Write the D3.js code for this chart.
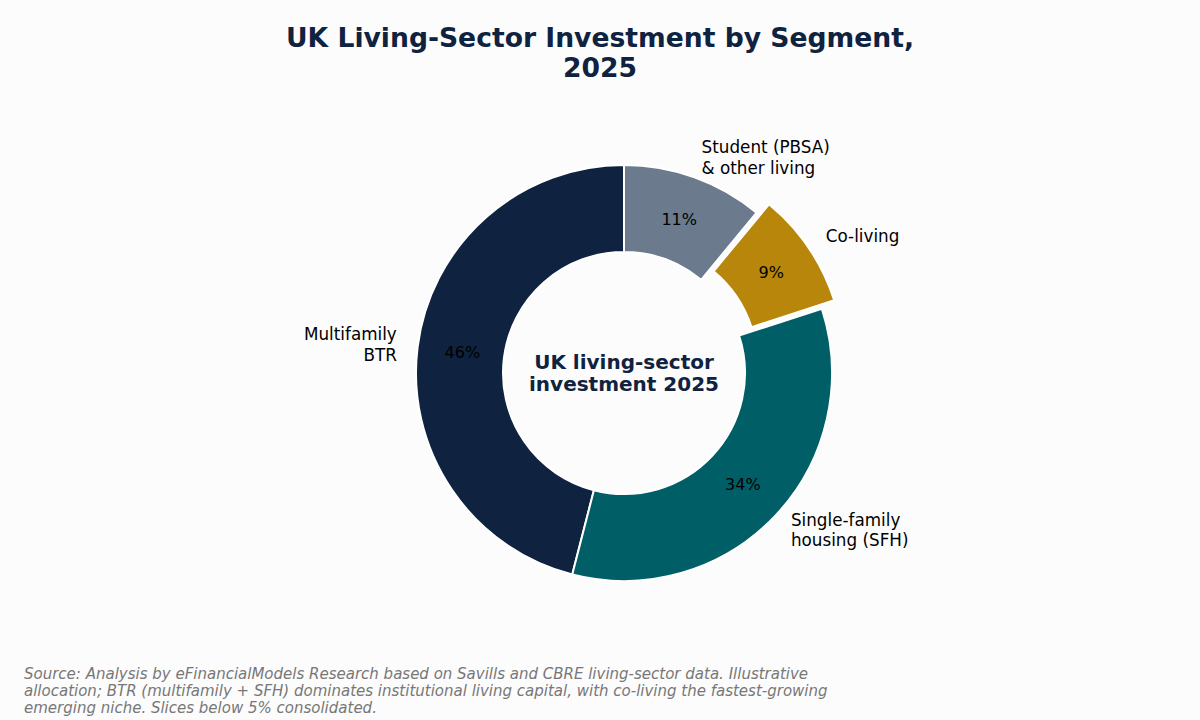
<!DOCTYPE html>
<html>
<head>
<meta charset="utf-8">
<script src="https://cdn.jsdelivr.net/npm/d3@7"></script>
<style>
  html, body { margin: 0; padding: 0; background: #fcfcfc; }
  svg { display: block; font-family: "DejaVu Sans", sans-serif; }
</style>
</head>
<body>
<svg id="chart" width="1200" height="720"></svg>
<script>
// segment data, in matplotlib draw order (counter-clockwise from 12 o'clock)
var segments = ["Multifamily\nBTR", "Single-family\nhousing (SFH)", "Co-living", "Student (PBSA)\n& other living"];
var shares = [46, 34, 9, 11];
var colors = ["#0f2240", "#005f66", "#b8860b", "#6b7a8c"];
var exploded = [0, 0, 1, 0];

var titleLines = ["UK Living-Sector Investment by Segment,", "2025"];
var centerLines = ["UK living-sector", "investment 2025"];
var sourceLines = [
  "Source: Analysis by eFinancialModels Research based on Savills and CBRE living-sector data. Illustrative",
  "allocation; BTR (multifamily + SFH) dominates institutional living capital, with co-living the fastest-growing",
  "emerging niche. Slices below 5% consolidated."
];

(function () {
  "use strict";
  var svg = d3.select("#chart"),
      cx = 624, cy = 373,
      outerR = 208, innerR = 121,
      explodeDist = 15,
      pctR = 163, labelR = 229;

  var rows = segments.map(function (s, i) {
    return {label: s, value: shares[i], color: colors[i], explode: exploded[i]};
  });

  // counter-clockwise like matplotlib's default
  var pie = d3.pie().sort(null).value(function (d) { return d.value; })
      .startAngle(0).endAngle(-2 * Math.PI);
  var arc = d3.arc().innerRadius(innerR).outerRadius(outerR);
  var total = d3.sum(shares);

  var arcs = pie(rows);

  function unit(a) {
    // d3 angle: 0 at top, clockwise positive
    return [Math.sin(a), -Math.cos(a)];
  }

  var g = svg.append("g").attr("transform", "translate(" + cx + "," + cy + ")");

  var slice = g.selectAll("g.slice").data(arcs).enter().append("g")
      .attr("class", "slice")
      .attr("transform", function (d) {
        var mid = (d.startAngle + d.endAngle) / 2, u = unit(mid),
            off = d.data.explode ? explodeDist : 0;
        return "translate(" + (u[0] * off) + "," + (u[1] * off) + ")";
      });

  slice.append("path")
      .attr("d", function (d) {
        // d3.arc wants start < end
        return arc({startAngle: d.endAngle, endAngle: d.startAngle});
      })
      .attr("fill", function (d) { return d.data.color; })
      .attr("stroke", "#ffffff")
      .attr("stroke-width", 2)
      .attr("stroke-linejoin", "round");

  slice.append("text")
      .attr("x", function (d) { return unit((d.startAngle + d.endAngle) / 2)[0] * pctR; })
      .attr("y", function (d) { return unit((d.startAngle + d.endAngle) / 2)[1] * pctR; })
      .attr("text-anchor", "middle")
      .attr("dominant-baseline", "central")
      .attr("font-size", 16)
      .attr("fill", "#000")
      .text(function (d) { return Math.round(d.value / total * 100) + "%"; });

  slice.each(function (d) {
    var u = unit((d.startAngle + d.endAngle) / 2),
        x = u[0] * labelR, y = u[1] * labelR,
        lines = d.data.label.split("\n"),
        lh = 20.5,
        t = d3.select(this).append("text")
          .attr("text-anchor", x < 0 ? "end" : "start")
          .attr("font-size", 16.8)
          .attr("fill", "#000");
    lines.forEach(function (l, i) {
      t.append("tspan")
        .attr("x", x)
        .attr("y", y + (i - (lines.length - 1) / 2) * lh)
        .attr("dominant-baseline", "central")
        .text(l);
    });
  });

  // centre label
  var ct = g.append("text")
      .attr("text-anchor", "middle")
      .attr("font-size", 20)
      .attr("font-weight", "bold")
      .attr("fill", "#0f2240");
  centerLines.forEach(function (l, i) {
    ct.append("tspan").attr("x", 0).attr("y", (i - 0.5) * 22)
      .attr("dominant-baseline", "central").text(l);
  });

  // title
  var tt = svg.append("text")
      .attr("text-anchor", "middle")
      .attr("font-size", 26.6)
      .attr("font-weight", "bold")
      .attr("fill", "#0f2240");
  titleLines.forEach(function (l, i) {
    tt.append("tspan").attr("x", 600).attr("y", 37 + i * 30)
      .attr("dominant-baseline", "central").text(l);
  });

  // source note
  var st = svg.append("text")
      .attr("font-size", 15)
      .attr("font-style", "italic")
      .attr("fill", "#777777");
  sourceLines.forEach(function (l, i) {
    st.append("tspan").attr("x", 24).attr("y", 674 + i * 17)
      .attr("dominant-baseline", "central").text(l);
  });
}());
</script>
</body>
</html>
